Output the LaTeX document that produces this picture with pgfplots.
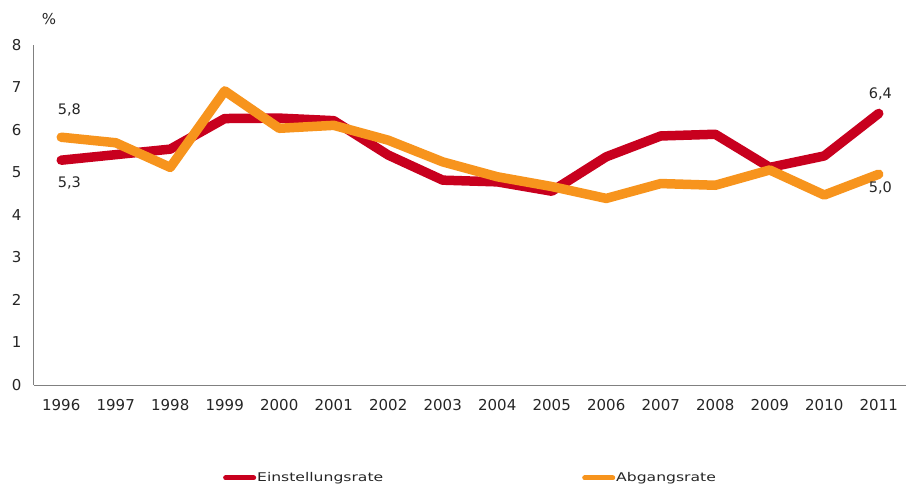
\documentclass[border=0pt]{standalone}
\usepackage{pgfplots}
\pgfplotsset{compat=1.18}
\usepackage{fontspec}
\setmainfont{DejaVu Sans}
\newfontfamily\legfont[FakeStretch=1.3]{DejaVu Sans}
\definecolor{cred}{HTML}{C8001E}
\definecolor{corange}{HTML}{F7941D}
\definecolor{ctext}{HTML}{262626}
\definecolor{caxis}{HTML}{808080}
\begin{document}
\begin{tikzpicture}
\begin{axis}[
  scale only axis,
  width=872pt, height=340pt,
  xmin=-0.5, xmax=15.5,
  ymin=0, ymax=8,
  axis x line=bottom, axis y line=left,
  axis line style={-, caxis, line width=1pt},
  xtick={0,...,15},
  xticklabels={1996,1997,1998,1999,2000,2001,2002,2003,2004,2005,2006,2007,2008,2009,2010,2011},
  ytick={0,1,...,8},
  major tick length=0pt,
  tick label style={font=\fontsize{15}{18}\selectfont, text=ctext},
  /pgf/number format/assume math mode=true,
  xticklabel style={yshift=-11pt},
  yticklabel style={xshift=-9pt},
  legend style={
    at={(0.5,-0.2735)}, anchor=center, draw=none, fill=none,
    legend columns=2,
    /tikz/every even column/.append style={column sep=198pt},
    font=\legfont\fontsize{12}{14}\selectfont, text=ctext,
    nodes={inner sep=1pt}
  },
  legend image code/.code={\draw[#1, line width=5pt, line cap=round] (2.5pt,0pt) -- (30.5pt,0pt);},
  clip=false,
]
\addplot[cred, line width=9.5pt, line cap=round, line join=round] coordinates {
(0,5.29) (1,5.42) (2,5.55) (3,6.27) (4,6.28) (5,6.22) (6,5.41) (7,4.82) (8,4.78) (9,4.56) (10,5.37) (11,5.86) (12,5.90) (13,5.12) (14,5.39) (15,6.39)};
\addlegendentry{Einstellungsrate}
\addplot[corange, line width=9.5pt, line cap=round, line join=round] coordinates {
(0,5.83) (1,5.70) (2,5.12) (3,6.92) (4,6.04) (5,6.11) (6,5.76) (7,5.25) (8,4.90) (9,4.67) (10,4.39) (11,4.74) (12,4.70) (13,5.06) (14,4.47) (15,4.96)};
\addlegendentry{Abgangsrate}
\node[font=\fontsize{14.5}{16}\selectfont, text=ctext] at (axis cs:0.15,6.47) {5,8};
\node[font=\fontsize{14.5}{16}\selectfont, text=ctext] at (axis cs:0.15,4.75) {5,3};
\node[font=\fontsize{14.5}{16}\selectfont, text=ctext] at (axis cs:15.03,6.85) {6,4};
\node[font=\fontsize{14.5}{16}\selectfont, text=ctext] at (axis cs:15.03,4.64) {5,0};
\node[font=\fontsize{15}{18}\selectfont, text=ctext] at (rel axis cs:0.0172,1.0765) {\%};
\end{axis}
\pgfresetboundingbox
\path[use as bounding box] (-34pt,-103pt) rectangle (873pt,385pt);
\end{tikzpicture}
\end{document}
